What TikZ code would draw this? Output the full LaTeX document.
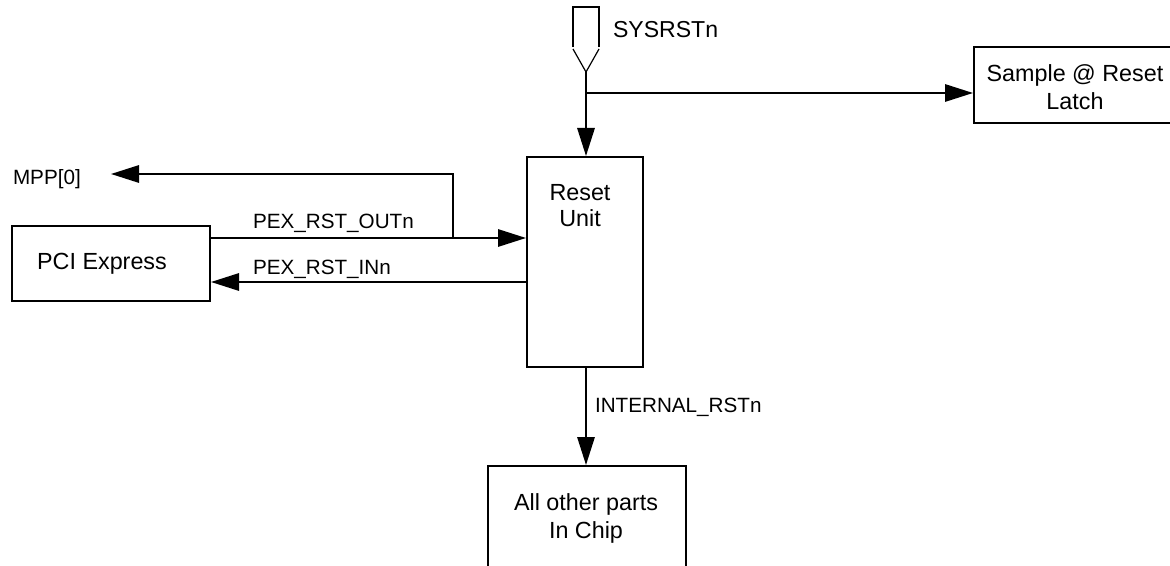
\documentclass[tikz,border=0pt]{standalone}
\usepackage{fontspec}
\setmainfont{Liberation Sans}
\usetikzlibrary{arrows.meta}
\begin{document}
\begin{tikzpicture}[x=0.75pt,y=-0.75pt,
  line width=1.5pt,
  box/.style={draw, line width=1.5pt, rectangle, anchor=north west, inner sep=0pt},
  arr/.style={-{Triangle[length=21pt,width=13pt]}},
  lbl/.style={anchor=base west, inner sep=0pt, font=\fontsize{15.5}{18}\selectfont},
  biglbl/.style={anchor=base west, inner sep=0pt, font=\fontsize{17.3}{20}\selectfont},
  btxt/.style={anchor=base, inner sep=0pt, font=\fontsize{17.5}{21}\selectfont},
  pin/.style={line width=0.9pt}]
\useasboundingbox (0,0) rectangle (1170,566);
\clip (0,0) rectangle (1170,566);
% boxes
\node[box, minimum width=87pt, minimum height=157.5pt] (reset) at (526,156) {};
\node[box, minimum width=148.5pt, minimum height=56.25pt] (pci) at (11,225) {};
\node[box, minimum width=160pt, minimum height=57pt] (sample) at (973,46) {};
\node[box, minimum width=148.5pt, minimum height=110pt] (other) at (487,465) {};
% box texts
\node[btxt] (t1) at (580,201) {Reset};
\node[btxt] (t2) at (580,227) {Unit};
\node[btxt] (t3) at (102,270) {PCI Express};
\node[btxt] (t4) at (1075,82) {Sample @ Reset};
\node[btxt] (t5) at (1075,110) {Latch};
\node[btxt] (t6) at (586,510) {All other parts};
\node[btxt] (t7) at (586,538) {In Chip};
% labels
\node[biglbl] (sys) at (612,38) {SYSRSTn};
\node[lbl] (mpp) at (12,185) {MPP[0]};
\node[lbl] (pout) at (252,229) {PEX\_RST\_OUTn};
\node[lbl] (pin) at (252,275) {PEX\_RST\_INn};
\node[lbl] (irst) at (594,412) {INTERNAL\_RSTn};
% pin symbol
\coordinate (pintip) at (586,72);
\draw[pin] (573,47) -- (573,7) -- (599,7) -- (599,47);
\draw[pin] (573,49) -- (pintip) -- (599,49);
% connectors
\draw[arr] (pintip) -- (pintip |- reset.north);
\coordinate (br) at (586,93);
\draw[arr] (br) -- (br -| sample.west);
\coordinate (outy) at (0,238);
\coordinate (iny) at (0,282);
\coordinate (mj) at (453,238);
\coordinate (mppend) at (111,174);
\draw[arr] (pci.east |- outy) -- (reset.west |- outy);
\draw[arr] (mj) -- (mj |- mppend) -- (mppend);
\draw[arr] (reset.west |- iny) -- (pci.east |- iny);
\draw[arr] (reset.south -| pintip) -- (pintip |- other.north);
\end{tikzpicture}
\end{document}
